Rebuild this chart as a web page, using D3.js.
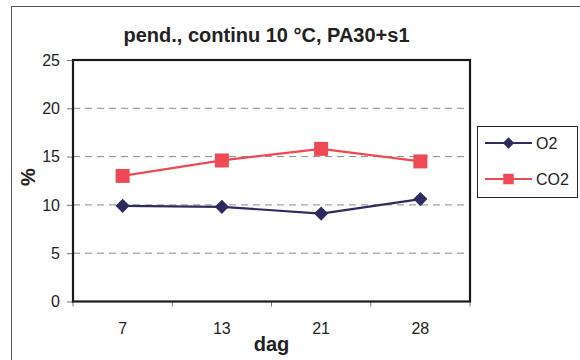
<!DOCTYPE html>
<html>
<head>
<meta charset="utf-8">
<script src="https://cdn.jsdelivr.net/npm/d3@7"></script>
<style>
  html, body { margin: 0; padding: 0; background: #fff; }
  svg { display: block; font-family: "Liberation Sans", Arial, sans-serif; }
</style>
</head>
<body>
<svg id="chart" width="580" height="360"></svg>
<script>
// Gas composition over storage days
const days = ["7", "13", "21", "28"];
const o2 = [9.9, 9.8, 9.1, 10.6];
const co2 = [13.0, 14.6, 15.8, 14.5];
const yTicks = [0, 5, 10, 15, 20, 25];
const seriesNames = ["O2", "CO2"];
const seriesColors = ["#2e2c5e", "#ee4a55"];

const svg = d3.select("#chart");
const plot = { left: 73, top: 60, right: 470, bottom: 301.5 };

// outer chart frame (extends past the bottom/right edge)
svg.append("rect")
  .attr("x", 11.5).attr("y", 6.5)
  .attr("width", 600).attr("height", 400)
  .attr("fill", "none").attr("stroke", "#555").attr("stroke-width", 1);

const x = d3.scaleBand().domain(days).range([plot.left, plot.right]);
const y = d3.scaleLinear().domain([0, 25]).range([plot.bottom, plot.top]);

// dashed gridlines
svg.append("g").selectAll("line")
  .data(yTicks.filter(t => t > 0 && t < 25))
  .join("line")
  .attr("x1", plot.left).attr("x2", plot.right)
  .attr("y1", d => y(d)).attr("y2", d => y(d))
  .attr("stroke", "#8a8a8a").attr("stroke-width", 1)
  .attr("stroke-dasharray", "7,5");

// y axis
const yAxis = svg.append("g")
  .attr("transform", `translate(${plot.left},0)`)
  .call(d3.axisLeft(y).tickValues(yTicks).tickSize(6).tickPadding(7));
yAxis.select(".domain").remove();
yAxis.selectAll(".tick line").attr("stroke", "#777");
yAxis.selectAll(".tick text")
  .attr("font-size", 16).attr("fill", "#222")
  .attr("font-family", "Liberation Sans, Arial, sans-serif");

// x axis: ticks at category boundaries, labels at centers
const xAxis = svg.append("g")
  .attr("transform", `translate(0,${plot.bottom})`);
const bounds = days.map(d => x(d)).concat([x(days[days.length - 1]) + x.bandwidth()]);
xAxis.selectAll("line.tk").data(bounds).join("line")
  .attr("class", "tk")
  .attr("x1", d => d).attr("x2", d => d)
  .attr("y1", 0).attr("y2", 5)
  .attr("stroke", "#777");
xAxis.selectAll("text").data(days).join("text")
  .attr("x", d => x(d) + x.bandwidth() / 2)
  .attr("y", 32)
  .attr("text-anchor", "middle")
  .attr("font-size", 16).attr("fill", "#222")
  .text(d => d);

// plot area border
svg.append("rect")
  .attr("x", plot.left).attr("y", plot.top)
  .attr("width", plot.right - plot.left).attr("height", plot.bottom - plot.top)
  .attr("fill", "none").attr("stroke", "#1a1a1a").attr("stroke-width", 2.2);

// series
const cx = d => x(d) + x.bandwidth() / 2;
const line = d3.line().x(d => cx(d.day)).y(d => y(d.v));
const series = [o2, co2].map((vals, i) => ({
  name: seriesNames[i], color: seriesColors[i],
  pts: vals.map((v, j) => ({ day: days[j], v }))
}));

series.forEach((s, i) => {
  svg.append("path").datum(s.pts)
    .attr("d", line).attr("fill", "none")
    .attr("stroke", s.color).attr("stroke-width", 2.2);
  const sym = i === 0
    ? d3.symbol().type(d3.symbolSquare).size(100)
    : d3.symbol().type(d3.symbolSquare).size(196);
  svg.append("g").selectAll("path").data(s.pts).join("path")
    .attr("d", sym())
    .attr("transform", d => `translate(${cx(d.day)},${y(d.v)})` + (i === 0 ? " rotate(45)" : ""))
    .attr("fill", s.color);
});

// title
svg.append("text")
  .attr("x", 266.5).attr("y", 42)
  .attr("text-anchor", "middle")
  .attr("font-size", 20).attr("font-weight", "bold").attr("fill", "#222")
  .text("pend., continu 10 °C, PA30+s1");

// axis titles
svg.append("text")
  .attr("x", 271.5).attr("y", 351)
  .attr("text-anchor", "middle")
  .attr("font-size", 20).attr("font-weight", "bold").attr("fill", "#222")
  .text("dag");
svg.append("text")
  .attr("transform", "translate(35,177) rotate(-90)")
  .attr("text-anchor", "middle")
  .attr("font-size", 20).attr("font-weight", "bold").attr("fill", "#222")
  .text("%");

// legend
const lg = svg.append("g");
lg.append("rect")
  .attr("x", 477.5).attr("y", 126.5).attr("width", 100).attr("height", 71)
  .attr("fill", "#fff").attr("stroke", "#222").attr("stroke-width", 1);
series.forEach((s, i) => {
  const ly = 143 + i * 36;
  lg.append("line")
    .attr("x1", 485).attr("x2", 532).attr("y1", ly).attr("y2", ly)
    .attr("stroke", s.color).attr("stroke-width", 2.2);
  const sym = i === 0
    ? d3.symbol().type(d3.symbolSquare).size(64)
    : d3.symbol().type(d3.symbolSquare).size(110);
  lg.append("path").attr("d", sym())
    .attr("transform", `translate(508.5,${ly})` + (i === 0 ? " rotate(45)" : ""))
    .attr("fill", s.color);
  lg.append("text")
    .attr("x", 536).attr("y", ly + 6)
    .attr("font-size", 16).attr("fill", "#222")
    .text(s.name);
});
</script>
</body>
</html>
